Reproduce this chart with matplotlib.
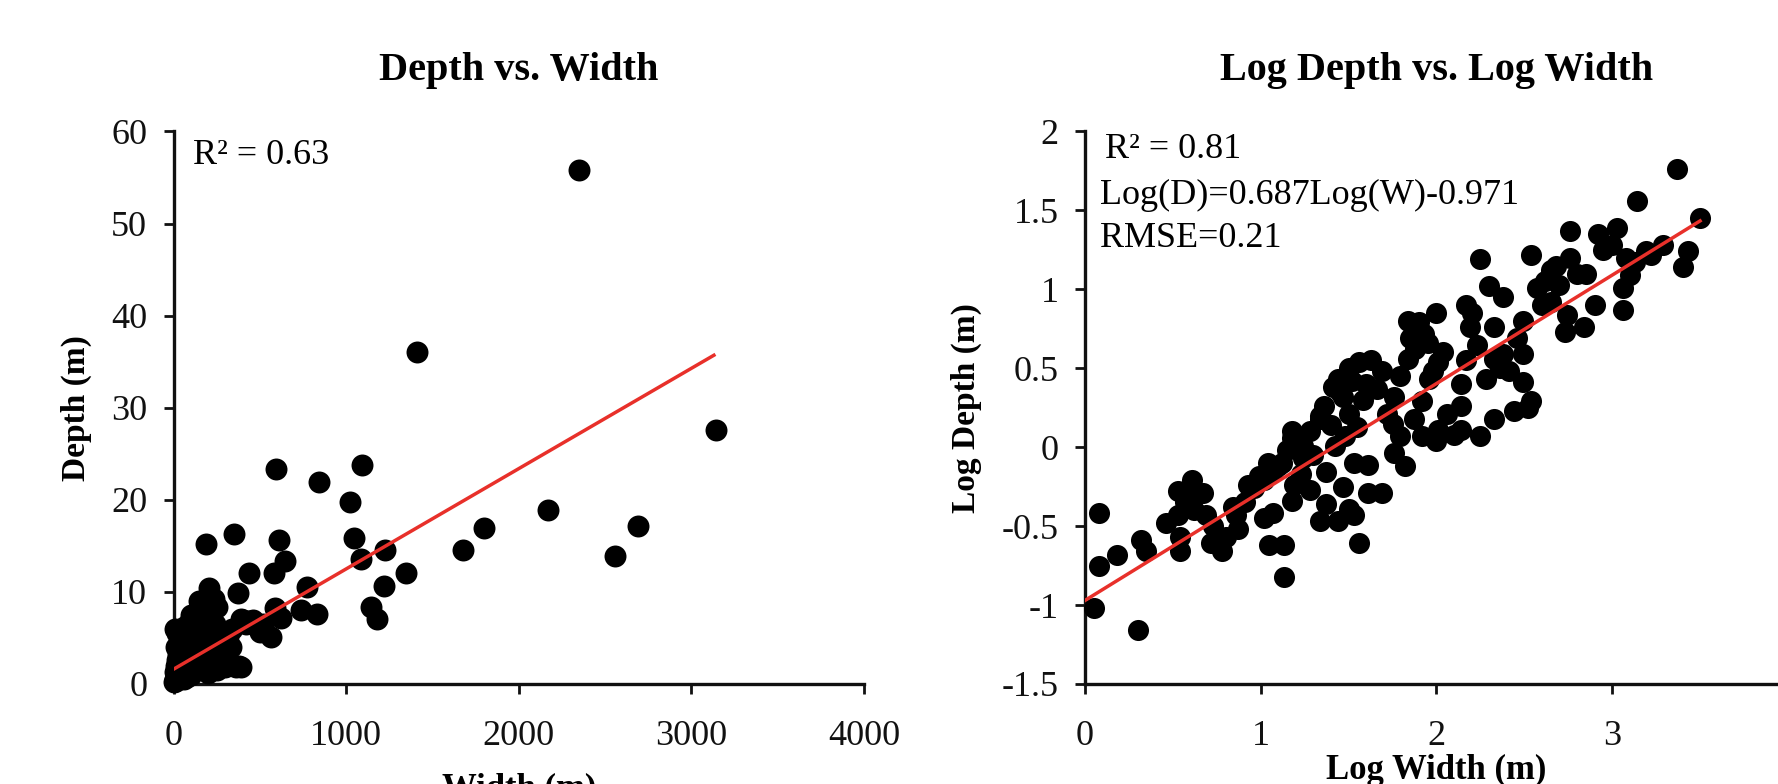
import numpy as np
import matplotlib
matplotlib.use("Agg")
import matplotlib.pyplot as plt

plt.rcParams['font.family'] = ['Liberation Serif', 'DejaVu Serif']

# ============ Données : Profondeur vs Largeur ============
width_m = [2349, 1409, 3140, 595, 1090, 840, 1020, 2169, 2688, 1801, 1678, 2555,
           349, 186, 608, 1047, 1083, 1223, 1346, 648, 581, 439, 375, 203, 249,
           774, 741, 831, 1219, 1146, 1176, 565, 625, 585, 392, 498, 392, 316,
           266, 166, 236,
           5, 10, 15, 20, 25, 30, 12, 18, 25, 35, 40, 30, 45, 50, 60, 55, 65, 70,
           75, 80, 90, 95, 100, 110, 120, 130, 140, 150, 160, 170, 180, 190, 200,
           210, 220, 230, 240, 250, 260, 270, 280, 290, 300, 310, 320, 330, 340,
           360, 380, 400, 420, 440, 460, 520, 150, 210, 230, 100, 60, 35, 8, 15,
           20, 10, 130, 170, 200, 250, 110, 85]
depth_m = [55.8, 36.1, 27.6, 23.3, 23.8, 21.9, 19.8, 18.9, 17.2, 16.9, 14.6, 13.9,
           16.3, 15.2, 15.6, 15.9, 13.6, 14.5, 12.1, 13.4, 12.0, 12.1, 9.9, 10.4, 8.4,
           10.5, 8.0, 7.6, 10.6, 8.4, 7.1, 5.1, 7.2, 8.2, 7.1, 5.6, 1.8, 5.1,
           3.7, 1.6, 9.2,
           0.2, 0.5, 0.3, 1.0, 0.6, 1.5, 2.0, 2.6, 3.2, 2.2, 3.8, 4.5, 5.0, 5.6, 6.2,
           4.2, 3.0, 2.0, 1.2, 0.8, 4.8, 6.8, 7.5, 5.5, 4.0, 3.2, 2.4, 1.6, 6.0, 7.2,
           8.0, 5.0, 3.8, 2.8, 2.0, 4.6, 6.5, 3.5, 5.2, 2.5, 3.0, 4.2, 1.8, 5.6, 2.2,
           4.0, 6.0, 1.8, 2.0, 7.0, 6.5, 6.8, 7.0, 6.5, 9.0, 8.8, 9.0, 1.0, 0.5, 0.9,
           1.3, 4.0, 5.5, 6.0, 6.8, 3.5, 1.2, 1.5, 2.2, 3.6]
lin_fit_x = [0, 3130]
lin_fit_y = [1.6, 35.7]

# ============ Données : Log Profondeur vs Log Largeur ============
log_w = [3.37, 3.14, 3.50, 2.76, 2.92, 3.03, 2.54, 2.25, 3.43, 3.40, 3.29, 3.19,
         3.13, 3.10, 3.06, 3.06, 2.76, 2.80, 2.70, 2.65, 2.74, 2.73, 2.90, 2.65,
         2.57, 2.60, 2.49, 2.46, 2.49, 2.41, 2.49, 2.54, 2.44, 2.33, 2.25, 2.14,
         2.06, 2.00, 1.92, 1.87, 1.79, 1.76, 1.82, 1.72, 1.76, 1.79, 1.84, 1.85,
         1.84, 1.90, 2.00, 1.95, 2.01, 1.96, 1.92, 2.14, 2.28, 2.17, 2.23, 2.19,
         2.17, 2.30, 2.38, 2.33, 2.38, 1.69, 1.63, 1.56, 1.50, 1.44, 1.47, 1.50,
         1.55, 1.48, 1.42, 1.40, 1.34, 1.36, 1.60, 1.66, 1.28, 1.24, 1.18, 1.15,
         1.12, 1.07, 1.02, 0.96, 0.91, 0.86, 0.87, 0.80, 0.78, 0.72, 0.73, 0.69,
         0.67, 0.61, 0.53, 0.57, 0.53, 0.54, 0.54, 0.46, 0.32, 0.35, 0.18, 0.08,
         0.08, 0.05, 0.30, 1.13, 1.13, 1.05, 1.02, 1.07, 1.18, 1.19, 1.23, 1.28,
         1.34, 1.37, 1.47, 1.50, 1.44, 1.53, 1.56, 1.61, 1.69, 1.61, 1.53, 1.24,
         1.37, 1.04, 0.99, 0.93, 1.18, 1.34, 2.14, 2.01, 2.84, 3.00, 2.33,
         1.45, 1.52, 1.58, 1.41, 1.88, 1.93, 1.98, 2.04, 2.10, 2.62, 2.68, 2.85,
         2.95, 3.08, 3.22, 2.52, 2.36, 1.30, 1.10, 0.62, 0.58, 0.84, 1.75, 2.20]
log_d = [1.76, 1.56, 1.45, 1.37, 1.35, 1.39, 1.22, 1.19, 1.24, 1.14, 1.28, 1.24,
         1.17, 1.09, 1.01, 0.87, 1.20, 1.10, 1.03, 0.92, 0.84, 0.73, 0.90, 1.12,
         1.01, 0.90, 0.80, 0.69, 0.59, 0.48, 0.41, 0.29, 0.23, 0.18, 0.07, 0.11,
         0.21, 0.04, 0.07, 0.18, 0.07, -0.04, -0.12, 0.21, 0.32, 0.45, 0.56, 0.69,
         0.80, 0.79, 0.85, 0.66, 0.54, 0.43, 0.29, 0.40, 0.43, 0.55, 0.65, 0.76,
         0.90, 1.02, 0.95, 0.76, 0.59, 0.48, 0.55, 0.54, 0.50, 0.43, 0.32, 0.21,
         0.13, 0.07, 0.01, 0.14, 0.18, 0.26, 0.40, 0.37, 0.10, 0.01, 0.06, -0.02,
         -0.10, -0.15, -0.21, -0.26, -0.35, -0.43, -0.52, -0.57, -0.66, -0.61, -0.50, -0.43,
         -0.29, -0.21, -0.28, -0.35, -0.43, -0.57, -0.66, -0.48, -0.59, -0.66, -0.68, -0.42,
         -0.75, -1.02, -1.16, -0.82, -0.62, -0.62, -0.45, -0.42, -0.34, -0.24, -0.17, -0.27,
         -0.47, -0.36, -0.25, -0.39, -0.47, -0.43, -0.61, -0.29, -0.29, -0.11, -0.10, -0.07,
         -0.16, -0.10, -0.18, -0.24, 0.10, 0.20, 0.26, 0.11, 0.76, 1.28, 0.56,
         0.35, 0.42, 0.30, 0.38, 0.62, 0.72, 0.48, 0.60, 0.08, 1.05, 1.15, 1.10,
         1.25, 1.20, 1.22, 0.25, 0.50, -0.05, -0.12, -0.40, -0.32, -0.38, 0.15, 0.85]
log_fit_x = [0.0, 3.5]
log_fit_y = [0.687 * x - 0.971 for x in log_fit_x]

left_xticks = [0, 1000, 2000, 3000, 4000]
left_yticks = [0, 10, 20, 30, 40, 50, 60]
right_xticks = [0, 1, 2, 3, 4]
right_yticks = [-1.5, -1, -0.5, 0, 0.5, 1, 1.5, 2]
right_ylabels = ['-1.5', '-1', '-0.5', '0', '0.5', '1', '1.5', '2']

red = '#e8302a'


def style_axes(ax):
    for s in ['top', 'right']:
        ax.spines[s].set_visible(False)
    for s in ['left', 'bottom']:
        ax.spines[s].set_linewidth(2.4)
        ax.spines[s].set_color('#111111')
    ax.tick_params(axis='both', direction='out', length=7, width=2.0,
                   labelsize=26, colors='#111111')
    ax.tick_params(axis='x', pad=19)
    ax.tick_params(axis='y', pad=12)


fig = plt.figure(figsize=(17.78, 7.84), dpi=100)

# ============ Graphique gauche ============
ax1 = fig.add_axes([0.0976, 0.1276, 0.3884, 0.7047])
ax1.scatter(width_m, depth_m, s=250, c='black', zorder=3, clip_on=False, linewidths=0)
ax1.plot(lin_fit_x, lin_fit_y, color=red, lw=2.5, zorder=4)
ax1.set_xlim(0, 4000)
ax1.set_ylim(0, 60)
ax1.set_xticks(left_xticks)
ax1.set_yticks(left_yticks)
style_axes(ax1)
ax1.text(0.5, 1.111, 'Depth vs. Width', transform=ax1.transAxes, ha='center',
         va='center', fontsize=29, fontweight='bold')
ax1.text(-0.14, 0.5, 'Depth (m)', transform=ax1.transAxes, rotation=90,
         ha='center', va='center', fontsize=24, fontweight='bold')
ax1.text(0.5, -0.19, 'Width (m)', transform=ax1.transAxes, ha='center',
         va='center', fontsize=25, fontweight='bold')
ax1.text(0.028, 0.957, 'R² = 0.63', transform=ax1.transAxes, ha='left',
         va='center', fontsize=26)

# ============ Graphique droit ============
ax2 = fig.add_axes([0.6102, 0.1276, 0.3954, 0.7047])
ax2.scatter(log_w, log_d, s=230, c='black', zorder=3, clip_on=False, linewidths=0)
ax2.plot(log_fit_x, log_fit_y, color=red, lw=2.5, zorder=4)
ax2.set_xlim(0, 4)
ax2.set_ylim(-1.5, 2)
ax2.set_xticks(right_xticks)
ax2.set_yticks(right_yticks)
ax2.set_yticklabels(right_ylabels)
style_axes(ax2)
ax2.text(0.5, 1.111, 'Log Depth vs. Log Width', transform=ax2.transAxes, ha='center',
         va='center', fontsize=29, fontweight='bold')
ax2.text(-0.168, 0.5, 'Log Depth (m)', transform=ax2.transAxes, rotation=90,
         ha='center', va='center', fontsize=24, fontweight='bold')
ax2.text(0.5, -0.157, 'Log Width (m)', transform=ax2.transAxes, ha='center',
         va='center', fontsize=25, fontweight='bold')
ax2.text(0.029, 0.967, 'R² = 0.81', transform=ax2.transAxes, ha='left',
         va='center', fontsize=26)
ax2.text(0.021, 0.885, 'Log(D)=0.687Log(W)-0.971', transform=ax2.transAxes, ha='left',
         va='center', fontsize=26)
ax2.text(0.021, 0.807, 'RMSE=0.21', transform=ax2.transAxes, ha='left',
         va='center', fontsize=26)

plt.savefig('out.png', dpi=100)
plt.close()
